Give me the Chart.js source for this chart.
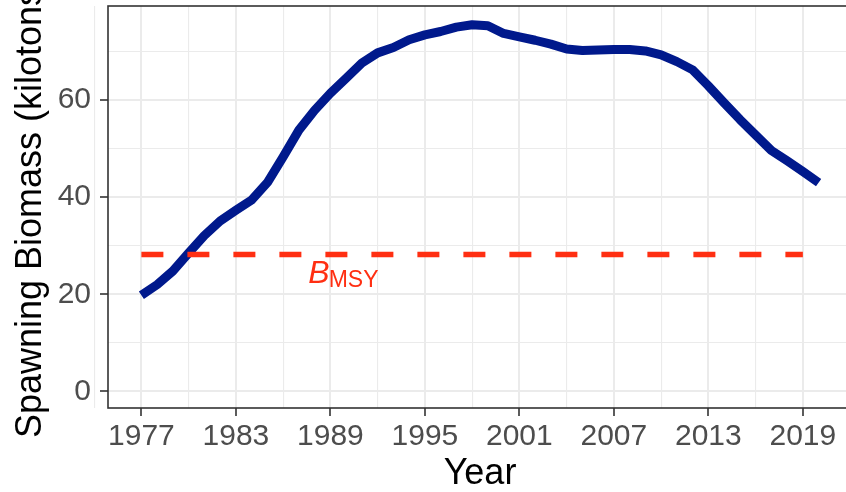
<!DOCTYPE html>
<html><head><meta charset="utf-8">
<script src="https://cdn.jsdelivr.net/npm/chart.js@4/dist/chart.umd.min.js"></script>
<style>
html,body{margin:0;padding:0;background:#fff;overflow:hidden;width:846px;height:492px}
#wrap{position:absolute;left:0;top:0;width:900px;height:492px}
</style></head><body>
<div id="wrap"><canvas id="c" width="900" height="492"></canvas></div>
<script>
const years = [1977,1978,1979,1980,1981,1982,1983,1984,1985,1986,1987,1988,1989,1990,1991,1992,1993,1994,1995,1996,1997,1998,1999,2000,2001,2002,2003,2004,2005,2006,2007,2008,2009,2010,2011,2012,2013,2014,2015,2016,2017,2018,2019,2020];
const biomass = [19.8,22.0,24.8,28.5,32.1,35.1,37.3,39.4,43.0,48.3,53.8,57.9,61.4,64.5,67.6,69.7,70.8,72.4,73.4,74.1,75.0,75.5,75.3,73.7,73.0,72.3,71.5,70.5,70.2,70.3,70.4,70.4,70.1,69.3,67.9,66.2,62.9,59.4,56.0,52.8,49.6,47.5,45.3,43.0];
const bmsyValue = 28.2;
const bmsyYears = [1977, 2019];
const xTickYears = [1977,1983,1989,1995,2001,2007,2013,2019];
const yTickValues = [0,20,40,60];
const xTitle = 'Year';
const yTitle = 'Spawning Biomass (kilotons)';
const bmsyLabelMain = 'B';
const bmsyLabelSub = 'MSY';

const FONT = "'Liberation Sans', Arial, Helvetica, sans-serif";
const GRID = '#ebebeb';
const AXIS = '#333333';

// minor grid positions halfway between major ticks
const xGrid = [];
xTickYears.forEach((v,i)=>{ xGrid.push(v); if(i<xTickYears.length-1) xGrid.push((v+xTickYears[i+1])/2); });
xGrid.unshift(xTickYears[0]-(xTickYears[1]-xTickYears[0])/2);
xGrid.push(xTickYears[xTickYears.length-1]+(xTickYears[1]-xTickYears[0])/2);
const yGrid = [];
yTickValues.forEach((v,i)=>{ yGrid.push(v); yGrid.push(v+(yTickValues[1]-yTickValues[0])/2); });

const isMajorX = v => xTickYears.includes(v);
const isMajorY = v => yTickValues.includes(v);

const decor = {
  id:'decor',
  afterDatasetsDraw(chart){
    const {ctx, scales:{x,y}} = chart;
    ctx.save();
    ctx.fillStyle = '#ff2f12';
    ctx.textBaseline = 'alphabetic';
    ctx.textAlign = 'left';
    const px = x.getPixelForValue(1987.6);
    const py = y.getPixelForValue(22.4);
    ctx.font = "italic 32px " + FONT;
    ctx.fillText(bmsyLabelMain, px, py);
    const w = ctx.measureText(bmsyLabelMain).width;
    ctx.font = "23px " + FONT;
    ctx.fillText(bmsyLabelSub, px + w - 1, py + 4);
    ctx.restore();
  },
  afterDraw(chart){
    const {ctx, chartArea:a} = chart;
    ctx.save();
    ctx.strokeStyle = AXIS;
    ctx.lineWidth = 1.6;
    ctx.strokeRect(a.left, a.top, a.right-a.left, a.bottom-a.top);
    // y axis title (rotated)
    ctx.fillStyle = '#000';
    ctx.font = "36px " + FONT;
    ctx.textAlign = 'center';
    ctx.textBaseline = 'alphabetic';
    ctx.translate(41, (a.top + a.bottom)/2);
    ctx.rotate(-Math.PI/2);
    ctx.fillText(yTitle, 0, 0);
    ctx.restore();
  }
};

new Chart(document.getElementById('c'), {
  type:'line',
  data:{
    datasets:[
      {
        data: bmsyYears.map(v=>({x:v, y:bmsyValue})),
        borderColor:'#ff2f12', borderWidth:5.5, borderDash:[22,24], borderCapStyle:'butt',
        pointRadius:0, order:0
      },
      {
        data: years.map((v,i)=>({x:v, y:biomass[i]})),
        borderColor:'#00198c', borderWidth:9, borderJoinStyle:'round', borderCapStyle:'butt',
        pointRadius:0, tension:0, order:1
      }
    ]
  },
  options:{
    responsive:false, animation:false, devicePixelRatio:1,
    layout:{padding:{top:6, right:48, left:0, bottom:0}},
    plugins:{legend:{display:false}, tooltip:{enabled:false}},
    scales:{
      x:{
        type:'linear', min:1974.88, max:2022.12,
        afterBuildTicks: s => { s.ticks = xGrid.map(v=>({value:v})); },
        afterFit: s => { s.height = 84; s.paddingLeft = 0; s.paddingRight = 0; },
        ticks:{autoSkip:false, maxRotation:0, minRotation:0, padding:6, color:'#4d4d4d',
          font:{family:FONT, size:30, lineHeight:1},
          callback: v => isMajorX(v) ? String(v) : ''},
        grid:{color:GRID, lineWidth: c => (c.tick && isMajorX(c.tick.value)) ? 2 : 1.1,
          tickLength:8, tickWidth:1.6, tickColor: c => (c.tick && isMajorX(c.tick.value)) ? AXIS : 'rgba(0,0,0,0)'},
        border:{display:false},
        title:{display:true, text:xTitle, color:'#000', font:{family:FONT, size:36, lineHeight:1}, padding:{top:0,bottom:0}}
      },
      y:{
        type:'linear', min:-3.4, max:79.35,
        afterBuildTicks: s => { s.ticks = yGrid.map(v=>({value:v})); },
        afterFit: s => { s.width = 108; s.paddingTop = 0; s.paddingBottom = 0; },
        ticks:{autoSkip:false, padding:9, color:'#4d4d4d',
          font:{family:FONT, size:30, lineHeight:1},
          callback: v => isMajorY(v) ? String(v) : ''},
        grid:{color:GRID, lineWidth: c => (c.tick && isMajorY(c.tick.value)) ? 2 : 1.1,
          tickLength:8, tickWidth:1.6, tickColor: c => (c.tick && isMajorY(c.tick.value)) ? AXIS : 'rgba(0,0,0,0)'},
        border:{display:false},
        title:{display:false}
      }
    }
  },
  plugins:[decor]
});
</script>
</body></html>
